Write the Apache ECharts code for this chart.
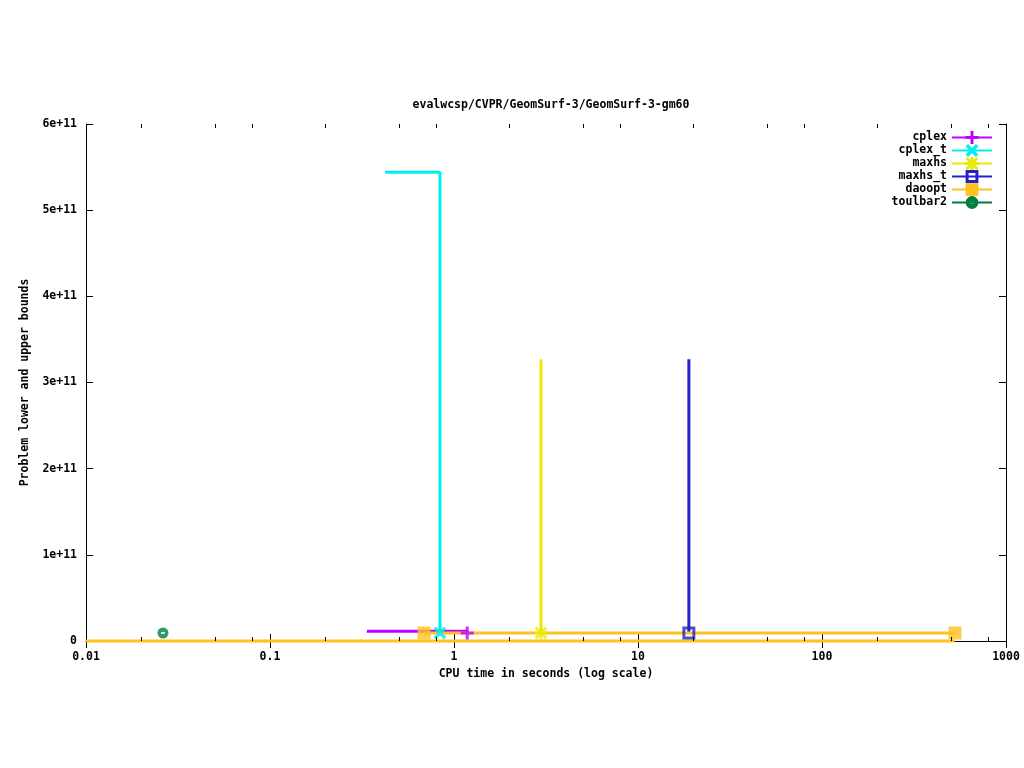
<!DOCTYPE html>
<html>
<head>
<meta charset="utf-8">
<script src="https://cdn.jsdelivr.net/npm/echarts@6/dist/echarts.min.js"></script>
<style>
html,body{margin:0;padding:0;background:#fff;}
#chart{width:1024px;height:768px;}
</style>
</head>
<body>
<div id="chart"></div>
<script>
// ---- data ----
const titleText = 'evalwcsp/CVPR/GeomSurf-3/GeomSurf-3-gm60';
const xName = 'CPU time in seconds (log scale)';
const yName = 'Problem lower and upper bounds';
const xTickLabels = ['0.01', '0.1', '1', '10', '100', '1000'];
const yTickLabels = ['0', '1e+11', '2e+11', '3e+11', '4e+11', '5e+11', '6e+11'];
const xMinorTicks = [0.02, 0.05, 0.08, 0.2, 0.5, 0.8, 2, 5, 8, 20, 50, 80, 200, 500, 800];

const seriesNames = ['cplex', 'cplex_t', 'maxhs', 'maxhs_t', 'daoopt', 'toulbar2'];

const cplexTime = [0.336, 1.18];
const cplexBound = [1.12e10, 9.3e9];
const cplexMarks = [1];

const cplexTTime = [0.422, 0.839];
const cplexTBound = [5.44e11, 9.3e9];
const cplexTMarks = [1];

const maxhsTime = [2.97, 2.97];
const maxhsBound = [3.27e11, 9.3e9];
const maxhsMarks = [1];

const maxhsTTime = [18.9, 18.9];
const maxhsTBound = [3.27e11, 9.3e9];
const maxhsTMarks = [1];

const daooptTime = [0.687, 528];
const daooptBound = [9.3e9, 9.3e9];
const daooptMarks = [0, 1];
const daooptLowTime = [0.01, 528];
const daooptLowBound = [0, 0];

const toulbar2Time = [0.0262];
const toulbar2Bound = [9.3e9];
const toulbar2Marks = [0];

// ---- styles ----
const colors = {
  cplex: '#c000ff', cplex_t: '#00eeee', maxhs: '#eaea00',
  maxhs_t: '#2222c8', daoopt: '#ffc020', toulbar2: '#008040'
};
const SYM_PLUS = 'path://M5,0H8V5H13V8H8V13H5V8H0V5H5Z';
const SYM_X = 'path://M0,2.5L2.5,0L13,10.5L10.5,13Z M10.5,0L13,2.5L2.5,13L0,10.5Z';
const SYM_STAR = 'path://M0,2L2,0L13,11L11,13Z M11,0L13,2L2,13L0,11Z M5,0H8V13H5Z M0,5H13V8H0Z';
const SYM_OSQ = 'path://M0,0H13V13H0Z M3,3V10H10V3Z';
const SYM_CIRC = 'path://M0,5.5A5.5,5.5 0 1 1 11,5.5A5.5,5.5 0 1 1 0,5.5Z M3.5,4.8V6.3H7.5V4.8Z';
const symbols = {
  cplex: SYM_PLUS, cplex_t: SYM_X, maxhs: SYM_STAR,
  maxhs_t: SYM_OSQ, daoopt: 'rect', toulbar2: SYM_CIRC
};
const symSizes = { cplex: 13, cplex_t: 13, maxhs: 13, maxhs_t: 13, daoopt: 13, toulbar2: 11 };
const font = '"DejaVu Sans Mono", "Liberation Mono", monospace';
const FS = 11.5;

function pts(t, v) { return t.map((x, i) => [x, v[i]]); }

const lineDefs = [
  ['cplex', cplexTime, cplexBound, cplexMarks],
  ['cplex_t', cplexTTime, cplexTBound, cplexTMarks],
  ['maxhs', maxhsTime, maxhsBound, maxhsMarks],
  ['maxhs_t', maxhsTTime, maxhsTBound, maxhsTMarks],
  ['daoopt', daooptTime, daooptBound, daooptMarks],
  ['toulbar2', toulbar2Time, toulbar2Bound, toulbar2Marks]
];

const series = [];
lineDefs.forEach(([name, t, v]) => {
  series.push({
    type: 'line', name: name, step: 'end',
    data: pts(t, v), showSymbol: false,
    symbol: symbols[name], symbolSize: symSizes[name],
    color: colors[name],
    lineStyle: { width: 3, color: colors[name] },
    itemStyle: { color: colors[name] },
    z: 2, animation: false, silent: true
  });
});
series.push({
  type: 'line', name: 'daoopt', step: 'end',
  data: pts(daooptLowTime, daooptLowBound), showSymbol: false,
  symbol: 'rect', color: colors.daoopt,
  lineStyle: { width: 3, color: colors.daoopt },
  z: 2, animation: false, silent: true, clip: false
});
lineDefs.forEach(([name, t, v, marks]) => {
  series.push({
    type: 'scatter', name: name,
    data: marks.map(i => [t[i], v[i]]),
    symbol: symbols[name], symbolSize: symSizes[name],
    itemStyle: { color: colors[name] },
    z: 3, animation: false, silent: true
  });
});
series.push({
  type: 'custom', name: 'minorTicks',
  data: xMinorTicks.map(x => [x, 0]),
  silent: true, animation: false, z: 4, clip: false,
  renderItem(params, api) {
    const x = Math.round(api.coord([api.value(0), 0])[0]) + 0.5;
    const cs = params.coordSys;
    const yb = cs.y + cs.height, yt = cs.y;
    return {
      type: 'group', children: [
        { type: 'line', shape: { x1: x, y1: yb, x2: x, y2: yb - 4 }, style: { stroke: '#000', lineWidth: 1 } },
        { type: 'line', shape: { x1: x, y1: yt, x2: x, y2: yt + 4 }, style: { stroke: '#000', lineWidth: 1 } }
      ]
    };
  }
});

const xLabelFmt = v => {
  const e = Math.round(Math.log10(v));
  return xTickLabels[e + 2] !== undefined ? xTickLabels[e + 2] : '';
};
const yLabelFmt = v => {
  const i = Math.round(v / 1e11);
  return yTickLabels[i] !== undefined ? yTickLabels[i] : '';
};
const axisCommon = {
  axisLine: { show: true, lineStyle: { color: '#000', width: 1 } },
  axisTick: { show: true, inside: true, length: 7, lineStyle: { color: '#000' } },
  splitLine: { show: false },
  minorTick: { show: false },
  minorSplitLine: { show: false }
};
const labelStyle = { color: '#000', fontFamily: font, fontSize: FS, fontWeight: 'bold' };

const option = {
  animation: false,
  backgroundColor: '#fff',
  title: {
    text: titleText, left: 546, top: 94, textAlign: 'center',
    textStyle: { color: '#000', fontFamily: font, fontSize: FS, fontWeight: 'bold' }
  },
  grid: { left: 86, right: 18, top: 124, bottom: 127, containLabel: false },
  legend: {
    data: seriesNames, orient: 'vertical', align: 'right',
    right: 31, top: 131, itemGap: 0, itemWidth: 40, itemHeight: 16,
    textStyle: { color: '#000', fontFamily: font, fontSize: FS, fontWeight: 'bold', lineHeight: 13 },
    selectedMode: false, padding: 0
  },
  xAxis: [
    Object.assign({
      type: 'log', logBase: 10, min: 0.01, max: 1000, position: 'bottom',
      name: xName, nameLocation: 'middle', nameGap: 27,
      nameTextStyle: labelStyle,
      axisLabel: Object.assign({ formatter: xLabelFmt, margin: 10 }, labelStyle)
    }, axisCommon),
    Object.assign({
      type: 'log', logBase: 10, min: 0.01, max: 1000, position: 'top',
      axisLabel: { show: false }
    }, axisCommon)
  ],
  yAxis: [
    Object.assign({
      type: 'value', min: 0, max: 6e11, interval: 1e11, position: 'left',
      name: yName, nameLocation: 'middle', nameGap: 53,
      nameTextStyle: labelStyle,
      axisLabel: Object.assign({ formatter: yLabelFmt, margin: 9 }, labelStyle)
    }, axisCommon),
    Object.assign({
      type: 'value', min: 0, max: 6e11, interval: 1e11, position: 'right',
      axisLabel: { show: false }
    }, axisCommon)
  ],
  series: series
};

const chart = echarts.init(document.getElementById('chart'), null, { renderer: 'canvas' });
chart.setOption(option);
</script>
</body>
</html>
